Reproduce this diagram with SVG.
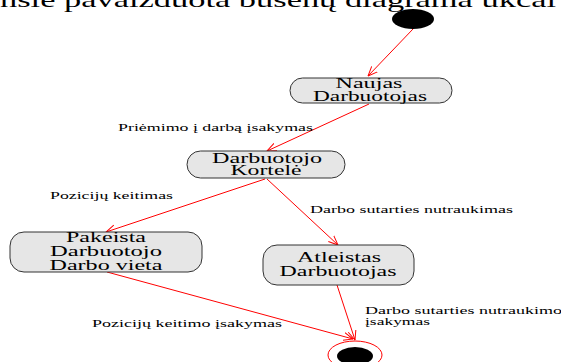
<svg xmlns="http://www.w3.org/2000/svg" width="561" height="362" viewBox="0 0 561 362" font-family="'Liberation Serif', 'DejaVu Serif', serif">
  <defs>
    <marker id="open-arrow" markerWidth="10" markerHeight="10" refX="9.5" refY="5" orient="auto" markerUnits="userSpaceOnUse">
      <path d="M0,1 L9.5,5 L0,9" fill="none" stroke="#ff0000" stroke-width="1"/>
    </marker>
  </defs>
  <style>
    .state { fill: #e6e6e6; stroke: #333333; stroke-width: 1; }
    .name { font-family: 'Liberation Serif', 'DejaVu Serif', serif; font-size: 14px; fill: #000; text-anchor: middle; }
    .label { font-family: 'Liberation Serif', 'DejaVu Serif', serif; font-size: 10.5px; fill: #000; }
    .flow { fill: none; stroke: #ff0000; stroke-width: 1; marker-end: url(#open-arrow); }
    .heading { font-family: 'Liberation Serif', 'DejaVu Serif', serif; font-size: 21px; fill: #000; }
  </style>

  <rect width="561" height="362" fill="#ffffff"/>

  <!-- heading line running off the top edge -->
  <text class="heading" x="0" y="7" textLength="556" lengthAdjust="spacingAndGlyphs">nsie pavaizduota būsenų diagrama ukcai</text>

  <!-- transitions -->
  <g id="connectors">
    <path class="flow" d="M413,29 L368,76"/>
    <path class="flow" d="M369,104 L267,151"/>
    <path class="flow" d="M265,179 L106,232"/>
    <path class="flow" d="M267,179 L338,245"/>
    <path class="flow" d="M107,272 L353,339"/>
    <path class="flow" d="M337,285 L355,340"/>
    <text class="label" x="118" y="131" textLength="195" lengthAdjust="spacingAndGlyphs">Priėmimo į darbą įsakymas</text>
    <text class="label" x="50" y="199" textLength="123" lengthAdjust="spacingAndGlyphs">Pozicijų keitimas</text>
    <text class="label" x="310" y="213" textLength="203" lengthAdjust="spacingAndGlyphs">Darbo sutarties nutraukimas</text>
    <text class="label" x="92" y="327" textLength="190" lengthAdjust="spacingAndGlyphs">Pozicijų keitimo įsakymas</text>
    <text class="label" x="365" y="314" textLength="197" lengthAdjust="spacingAndGlyphs">Darbo sutarties nutraukimo</text>
    <text class="label" x="365" y="325" textLength="65" lengthAdjust="spacingAndGlyphs">įsakymas</text>
  </g>

  <!-- initial state -->
  <g id="start">
    <ellipse cx="413" cy="19" rx="21" ry="10" fill="#000000"/>
  </g>

  <g id="naujas">
    <rect class="state" x="290" y="78" width="162" height="25" rx="12.5" ry="12.5"/>
    <text class="name" x="369" y="88" textLength="67" lengthAdjust="spacingAndGlyphs">Naujas</text>
    <text class="name" x="370" y="101" textLength="114" lengthAdjust="spacingAndGlyphs">Darbuotojas</text>
  </g>

  <g id="kortele">
    <rect class="state" x="187" y="151" width="158" height="27" rx="13.5" ry="13.5"/>
    <text class="name" x="267" y="163" textLength="110" lengthAdjust="spacingAndGlyphs">Darbuotojo</text>
    <text class="name" x="266" y="175" textLength="71" lengthAdjust="spacingAndGlyphs">Kortelė</text>
  </g>

  <g id="pakeista">
    <rect class="state" x="10" y="232" width="192" height="40" rx="14" ry="14"/>
    <text class="name" x="106" y="242" textLength="80" lengthAdjust="spacingAndGlyphs">Pakeista</text>
    <text class="name" x="106" y="256" textLength="112" lengthAdjust="spacingAndGlyphs">Darbuotojo</text>
    <text class="name" x="106" y="270" textLength="113" lengthAdjust="spacingAndGlyphs">Darbo vieta</text>
  </g>

  <g id="atleistas">
    <rect class="state" x="263" y="245" width="151" height="40" rx="14" ry="14"/>
    <text class="name" x="339" y="262" textLength="84" lengthAdjust="spacingAndGlyphs">Atleistas</text>
    <text class="name" x="338" y="276" textLength="117" lengthAdjust="spacingAndGlyphs">Darbuotojas</text>
  </g>

  <!-- final state -->
  <g id="end">
    <ellipse cx="355" cy="355" rx="27" ry="14" fill="#ffffff" stroke="#ff0000" stroke-width="1"/>
    <ellipse cx="355" cy="356" rx="18" ry="9" fill="#000000"/>
  </g>
</svg>
